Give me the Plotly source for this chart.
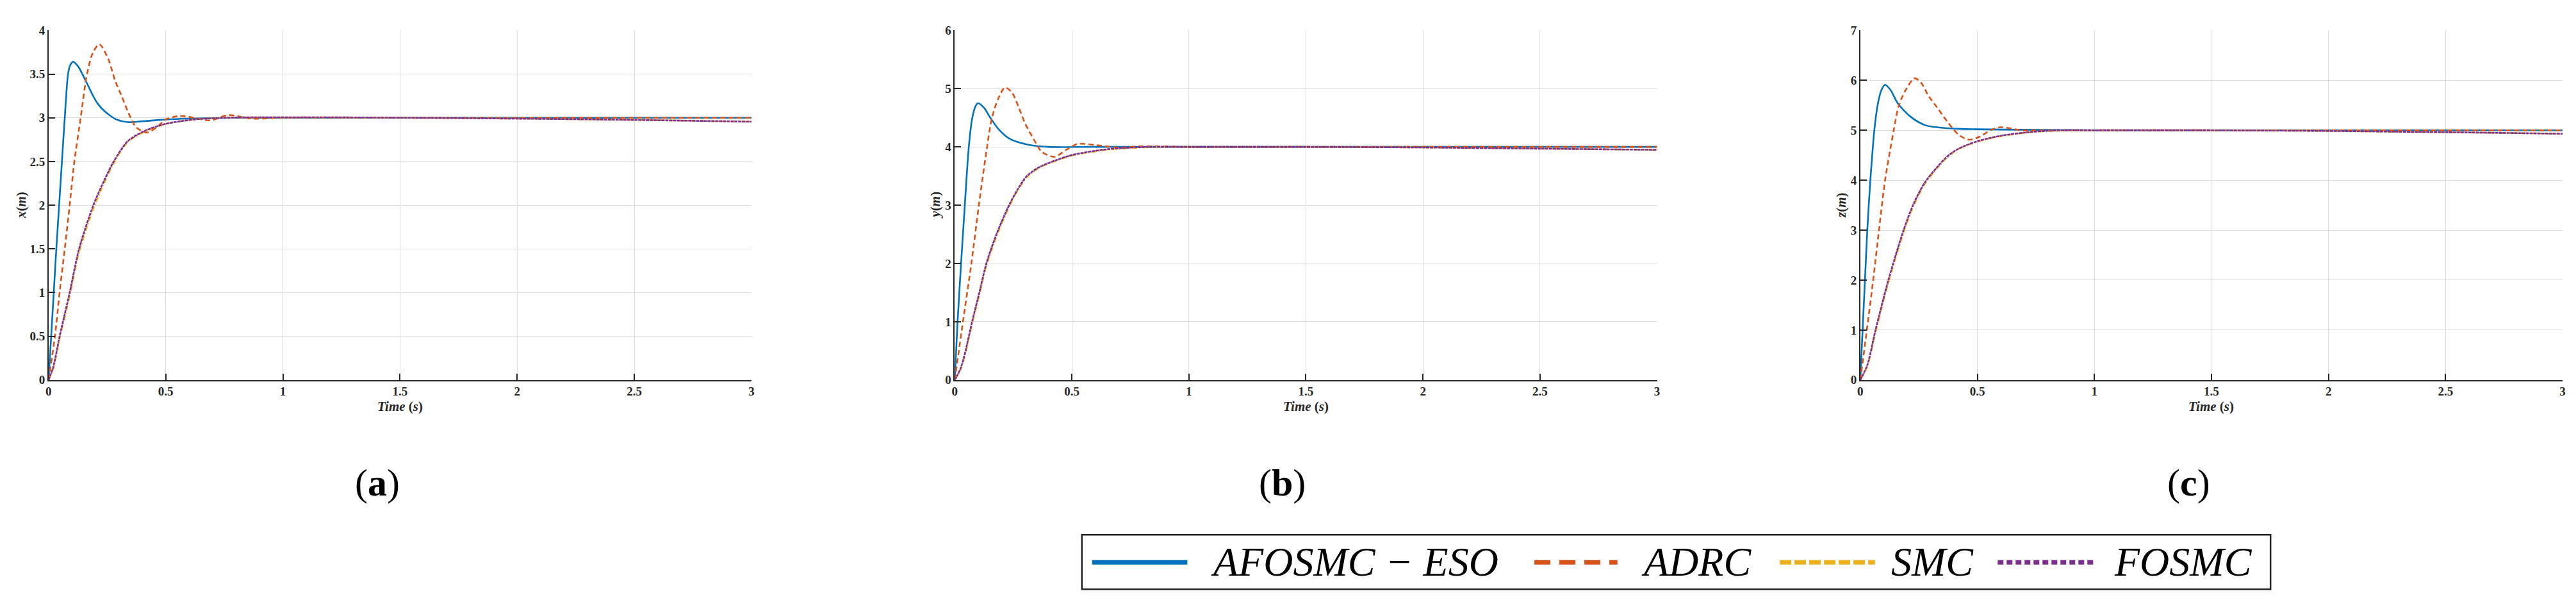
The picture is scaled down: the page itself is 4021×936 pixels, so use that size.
import plotly.graph_objects as go
from plotly.subplots import make_subplots

W, H = 4021, 936

# ---- data (time in s, position in m) ----
# panel (a): x(m)
t_a_eso = [0, 0.011, 0.022, 0.033, 0.045, 0.057, 0.069, 0.083, 0.092, 0.105, 0.128, 0.146, 0.17, 0.19,
           0.21, 0.237, 0.265, 0.29, 0.337, 0.4, 0.5, 0.6, 0.8, 1.0, 1.5, 2.0, 2.5, 3.0]
x_eso = [0, 0.5, 1.0, 1.5, 2.0, 2.5, 3.0, 3.5, 3.6, 3.64, 3.58, 3.49, 3.36, 3.25,
         3.16, 3.08, 3.02, 2.98, 2.95, 2.96, 2.98, 2.99, 3.0, 3.0, 3.0, 3.0, 3.0, 3.0]
t_a_adrc = [0, 0.027, 0.047, 0.069, 0.09, 0.11, 0.137, 0.164, 0.19, 0.217, 0.255, 0.283, 0.31, 0.342,
            0.374, 0.42, 0.465, 0.5, 0.555, 0.6, 0.69, 0.765, 0.87, 1.0, 1.5, 2.0, 2.5, 3.0]
x_adrc = [0, 0.5, 1.0, 1.5, 2.0, 2.5, 3.0, 3.5, 3.75, 3.84, 3.67, 3.43, 3.26, 3.05,
          2.89, 2.83, 2.90, 2.98, 3.02, 3.01, 2.97, 3.03, 2.99, 3.0, 3.0, 3.0, 3.0, 3.0]
t_a_smc = [0, 0.02, 0.047, 0.09, 0.13, 0.191, 0.235, 0.278, 0.337, 0.41, 0.5, 0.62, 0.75, 0.9,
           1.2, 1.5, 2.0, 2.5, 3.0]
x_smc = [0, 0.13, 0.47, 0.96, 1.46, 1.96, 2.24, 2.48, 2.72, 2.84, 2.93, 2.98, 3.0, 3.005,
         3.005, 3.0, 2.99, 2.975, 2.955]
x_fosmc = [0, 0.15, 0.5, 1.0, 1.5, 2.0, 2.27, 2.5, 2.73, 2.85, 2.93, 2.98, 3.0, 3.005,
           3.005, 3.0, 2.99, 2.975, 2.955]

# panel (b): y(m)
t_b_eso = [0, 0.012, 0.027, 0.043, 0.06, 0.075, 0.09, 0.1, 0.125, 0.152, 0.188, 0.234, 0.28, 0.325,
           0.4, 0.6, 1.0, 1.5, 2.0, 2.5, 3.0]
y_eso = [0, 1, 2, 3, 4, 4.5, 4.71, 4.75, 4.67, 4.5, 4.30, 4.14, 4.07, 4.03,
         4.0, 4.0, 4.0, 4.0, 4.0, 4.0, 4.0]
t_b_adrc = [0, 0.035, 0.071, 0.103, 0.138, 0.159, 0.186, 0.215, 0.245, 0.275, 0.302, 0.352, 0.37,
            0.425, 0.48, 0.525, 0.605, 0.7, 0.8, 1.0, 1.5, 2.0, 2.5, 3.0]
y_adrc = [0, 1, 2, 3, 4, 4.5, 4.83, 5.02, 4.93, 4.66, 4.39, 4.03, 3.92,
          3.83, 3.96, 4.05, 4.03, 3.99, 4.01, 4.0, 4.0, 4.0, 4.0, 4.0]
t_b_smc = [0, 0.025, 0.046, 0.074, 0.105, 0.135, 0.18, 0.232, 0.27, 0.308, 0.36, 0.418, 0.5, 0.652,
           0.83, 1.0, 1.5, 2.0, 2.5, 3.0]
y_smc = [0, 0.18, 0.47, 0.96, 1.46, 1.96, 2.48, 2.97, 3.26, 3.48, 3.64, 3.74, 3.85, 3.95,
         3.995, 4.0, 4.0, 3.99, 3.97, 3.95]
y_fosmc = [0, 0.2, 0.5, 1.0, 1.5, 2.0, 2.52, 3.0, 3.28, 3.5, 3.65, 3.75, 3.86, 3.96,
           4.0, 4.0, 4.0, 3.99, 3.97, 3.95]

# panel (c): z(m)
t_c_eso = [0, 0.01, 0.02, 0.03, 0.043, 0.051, 0.06, 0.074, 0.09, 0.106, 0.13, 0.16, 0.215, 0.278,
           0.37, 0.5, 0.7, 1.0, 1.5, 2.0, 2.5, 3.0]
z_eso = [0, 1, 2, 3, 4, 4.5, 5, 5.5, 5.8, 5.91, 5.8, 5.54, 5.27, 5.10,
         5.04, 5.02, 5.01, 5.0, 5.0, 5.0, 5.0, 5.0]
t_c_adrc = [0, 0.028, 0.055, 0.08, 0.106, 0.143, 0.165, 0.197, 0.232, 0.26, 0.29, 0.329, 0.374,
            0.42, 0.465, 0.51, 0.56, 0.6, 0.69, 0.8, 1.0, 1.5, 2.0, 2.5, 3.0]
z_adrc = [0, 1, 2, 3, 4, 5, 5.5, 5.83, 6.04, 5.95, 5.70, 5.45, 5.16,
          4.91, 4.81, 4.87, 5.01, 5.06, 5.0, 5.0, 5.0, 5.0, 5.0, 5.0, 5.0]
t_c_smc = [0, 0.03, 0.065, 0.12, 0.185, 0.225, 0.275, 0.33, 0.37, 0.415, 0.5, 0.6, 0.74, 0.87,
           1.0, 1.5, 2.0, 2.5, 3.0]
z_smc = [0, 0.27, 0.95, 1.95, 2.95, 3.46, 3.92, 4.25, 4.45, 4.61, 4.77, 4.88, 4.965, 4.995,
         5.0, 5.0, 4.985, 4.96, 4.93]
z_fosmc = [0, 0.3, 1.0, 2.0, 3.0, 3.5, 3.95, 4.27, 4.47, 4.62, 4.78, 4.89, 4.97, 5.0,
           5.0, 5.0, 4.985, 4.96, 4.93]

names = ["AFOSMC − ESO", "ADRC", "SMC", "FOSMC"]
colors = ["#0072BD", "#D95319", "#EDB120", "#7E2F8E"]
dashes = ["solid", "8px,5px", "8px,3px,2px,3px", "5px,1px"]

panels = [
    ([t_a_eso, t_a_adrc, t_a_smc, t_a_smc], [x_eso, x_adrc, x_smc, x_fosmc]),
    ([t_b_eso, t_b_adrc, t_b_smc, t_b_smc], [y_eso, y_adrc, y_smc, y_fosmc]),
    ([t_c_eso, t_c_adrc, t_c_smc, t_c_smc], [z_eso, z_adrc, z_smc, z_fosmc]),
]
y_max = [4, 6, 7]
y_step = [0.5, 1, 1]
y_titles = ["<i>x</i>(<i>m</i>)", "<i>y</i>(<i>m</i>)", "<i>z</i>(<i>m</i>)"]
panel_tags = ["a", "b", "c"]

fig = make_subplots(rows=1, cols=3)

for col, (ts, vs) in enumerate(panels, start=1):
    for k in range(4):
        fig.add_trace(go.Scatter(x=ts[k], y=vs[k], mode="lines", name=names[k],
                                 line=dict(color=colors[k], width=2.6, dash=dashes[k],
                                           shape="spline", smoothing=0.8),
                                 showlegend=False), row=1, col=col)

def px(x):
    return x / W

def py(y):
    return 1 - y / H

# plot areas in pixels: left, right
areas = [(63, 1163), (1481, 2580), (2898, 3997)]
top, bottom = 30, 588
serif = "Liberation Serif"
axis_col = "#262626"

for i, (l, r) in enumerate(areas):
    n = i + 1
    fig.update_xaxes(domain=[px(l), px(r)], range=[0, 3], dtick=0.5, tick0=0,
                     showgrid=True, gridcolor="#dedede", gridwidth=1, zeroline=False,
                     showline=True, linecolor=axis_col, linewidth=1.5,
                     ticks="inside", ticklen=10, tickcolor=axis_col, tickwidth=1.5,
                     tickfont=dict(family=serif, size=19, color=axis_col, weight="bold"),
                     row=1, col=n)
    fig.update_yaxes(domain=[py(bottom), py(top)], range=[0, y_max[i]], dtick=y_step[i], tick0=0,
                     showgrid=True, gridcolor="#dedede", gridwidth=1, zeroline=False,
                     showline=True, linecolor=axis_col, linewidth=1.5,
                     ticks="inside", ticklen=10, tickcolor=axis_col, tickwidth=1.5,
                     tickfont=dict(family=serif, size=19, color=axis_col, weight="bold"),
                     row=1, col=n)
    # axis titles
    fig.add_annotation(x=px((l + r) / 2), y=py(630), xref="paper", yref="paper",
                       xanchor="center", yanchor="middle",
                       text="<i>Time</i> (<i>s</i>)", showarrow=False,
                       font=dict(family=serif, size=21, color=axis_col, weight="bold"))
    fig.add_annotation(x=px(l - (43 if i == 0 else 30)), y=py((top + bottom) / 2),
                       xref="paper", yref="paper", xanchor="center", yanchor="middle",
                       text=y_titles[i], textangle=-90, showarrow=False,
                       font=dict(family=serif, size=21, color=axis_col, weight="bold"))

# sub-figure tags
for x_c, tag in zip([577, 1993, 3412], panel_tags):
    fig.add_annotation(x=px(x_c), y=py(752), xref="paper", yref="paper",
                       xanchor="center", yanchor="middle",
                       text="(<b>" + tag + "</b>)", showarrow=False,
                       font=dict(family=serif, size=60, color="black"))

# legend box drawn by hand (long line samples)
fig.add_shape(type="rect", xref="paper", yref="paper",
              x0=px(1680), x1=px(3540), y0=py(922), y1=py(835),
              line=dict(color="#222222", width=2.5), fillcolor="white")
leg_lines = [(1696, 1845), (2388, 2518), (2772, 2921), (3113, 3263)]
leg_dash = ["solid", "25px,14px", "18px,5px", "9px,5px"]
leg_text_x = [2107, 2642, 3011, 3403]
for k in range(4):
    fig.add_shape(type="line", xref="paper", yref="paper",
                  x0=px(leg_lines[k][0]), x1=px(leg_lines[k][1]), y0=py(879), y1=py(879),
                  line=dict(color=colors[k], width=7, dash=leg_dash[k]))
    fig.add_annotation(x=px(leg_text_x[k]), y=py(878), xref="paper", yref="paper",
                       xanchor="center", yanchor="middle",
                       text=names[k], showarrow=False,
                       font=dict(family=serif, size=64, color="black", style="italic"))

fig.update_layout(width=W, height=H, margin=dict(l=0, r=0, t=0, b=0),
                  paper_bgcolor="white", plot_bgcolor="white", showlegend=False)

fig.write_html("out.html")
